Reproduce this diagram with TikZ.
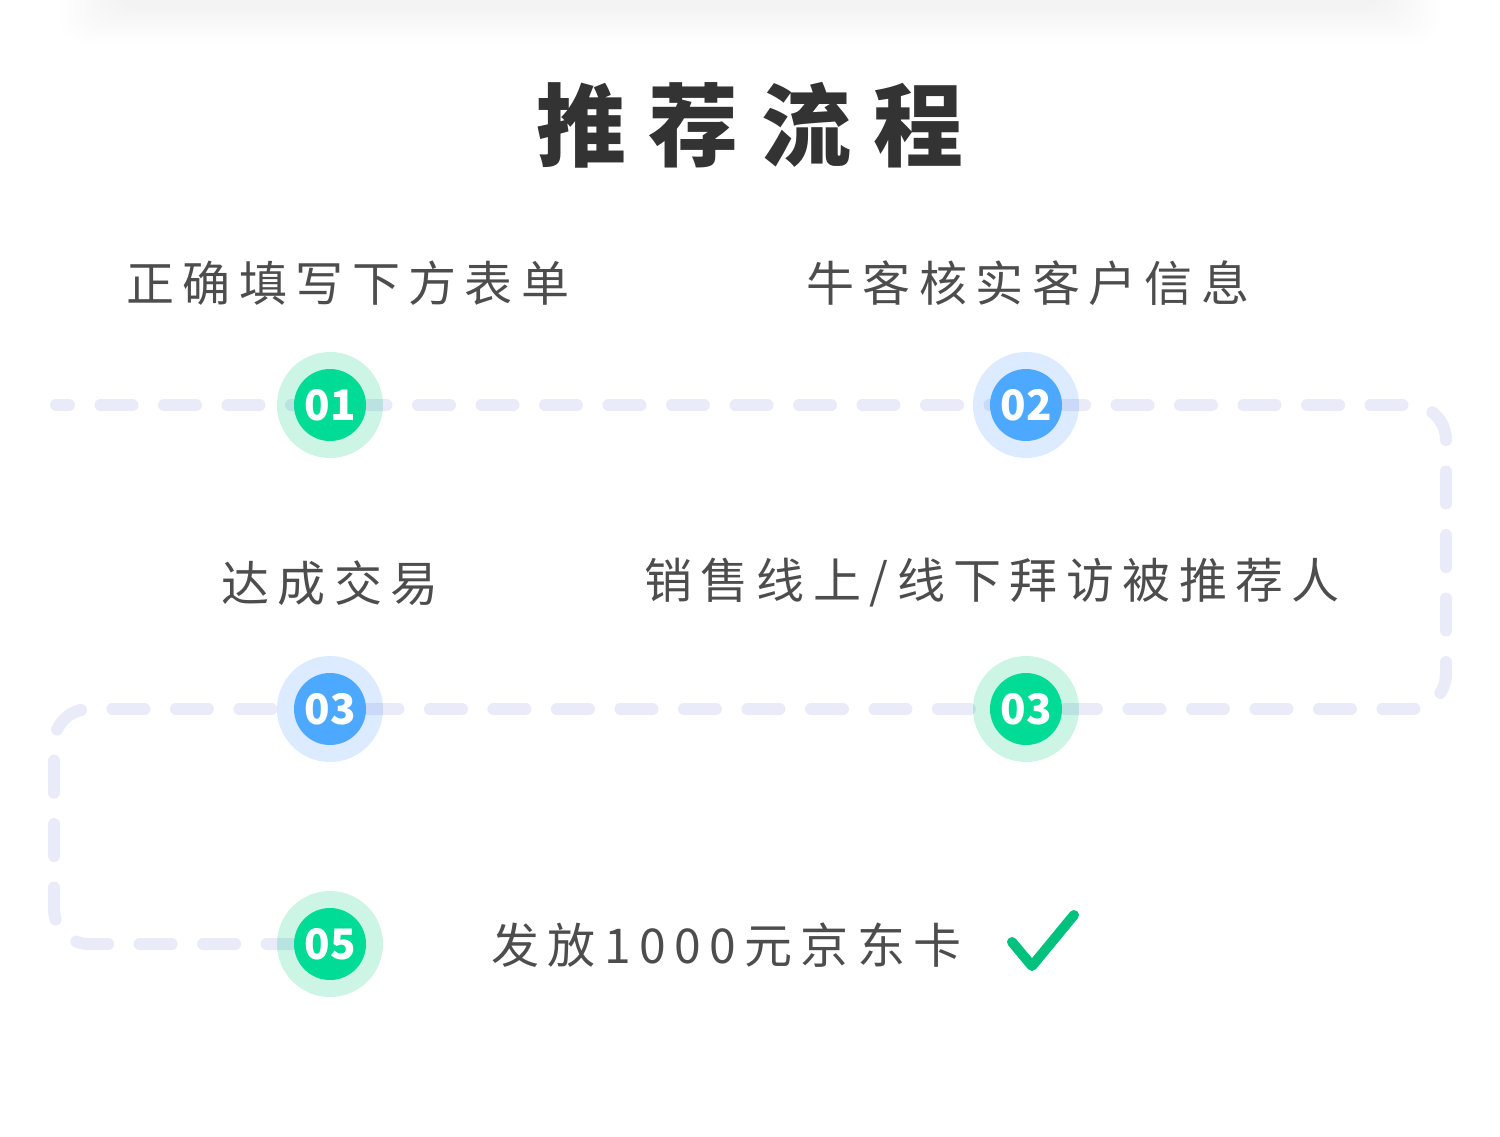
\documentclass[tikz,border=0pt]{standalone}
\usepackage{fontspec}
\newfontfamily\cjktitle[LetterSpace=25]{Noto Sans CJK SC}
\newfontfamily\cjkstep[LetterSpace=17.5]{Noto Sans CJK SC}
\newfontfamily\cjknum{Noto Sans CJK SC}
\usetikzlibrary{positioning}

\definecolor{titlegray}{HTML}{333333}
\definecolor{textgray}{HTML}{4D4D4D}
\definecolor{routeblue}{RGB}{35,65,185}
\definecolor{badgegreen}{HTML}{00DC96}
\definecolor{halogreen}{HTML}{CCF5E6}
\definecolor{badgeblue}{HTML}{4DA9FF}
\definecolor{haloblue}{HTML}{DCEBFF}
\definecolor{checkgreen}{HTML}{00C27E}

\pgfdeclarelayer{halo}
\pgfdeclarelayer{route}
\pgfsetlayers{halo,route,main}

\tikzset{
  badge/.style={circle, minimum size=36pt, inner sep=0pt, text=white,
    font=\cjknum\bfseries\fontsize{21pt}{21pt}\selectfont},
  steptext/.style={inner sep=0pt, text=textgray,
    font=\cjkstep\fontsize{24pt}{24pt}\selectfont},
  route/.style={routeblue, opacity=0.1, line width=6pt, line cap=round,
    dash pattern=on 16pt off 15.75pt, dash phase=9.5pt, rounded corners=17.5pt},
  check/.style={checkgreen, line width=5pt, line cap=round, line join=round}
}
\newcommand{\BadgeG}[3]{\node[badge, fill=badgegreen] (#1) at (#2) {#3};
  \begin{pgfonlayer}{halo}\fill[halogreen] (#1.center) circle (26.5pt);\end{pgfonlayer}}
\newcommand{\BadgeB}[3]{\node[badge, fill=badgeblue] (#1) at (#2) {#3};
  \begin{pgfonlayer}{halo}\fill[haloblue] (#1.center) circle (26.5pt);\end{pgfonlayer}}

\begin{document}
\begin{tikzpicture}[x=0.5pt, y=-0.5pt]
\useasboundingbox (0,0) rectangle (1500,1136);

% shadow of the card above
\foreach \i in {0,...,11}
  \fill[black, opacity=0.004, rounded corners=12pt] (60+\i*5,-40) rectangle (1440-\i*5,42-\i*3);

\node[text=titlegray, inner sep=0pt, font=\cjktitle\bfseries\fontsize{45pt}{45pt}\selectfont] (title) at (750,125) {推荐流程};

\BadgeG{b1}{330,405}{01}
\BadgeB{b2}{1026,405}{02}
\BadgeB{b3}{330,709}{03}
\BadgeG{b4}{1026,709}{03}
\BadgeG{b5}{330,944}{05}

\node[steptext] (t1) at (348,283) {正确填写下方表单};
\node[steptext] (t2) at (1028,283) {牛客核实客户信息};
\node[steptext] (t3) at (330,583) {达成交易};
\node[steptext] (t4) at (992,583) {销售线上/线下拜访被推荐人};
\node[steptext, anchor=west] (t5) at (491,945) {发放1000元京东卡};

\coordinate (start) at (56,405);
\coordinate (ne) at (1446,405);
\coordinate (se) at (1446,709);
\coordinate (nw) at (54,709);
\coordinate (sw) at (54,944);

\begin{pgfonlayer}{route}
\draw[route] (start) -- (b1.center) -- (b2.center) -- (ne) -- (se) -- (b4.center) -- (b3.center) -- (nw) -- (sw) -- (b5.center);
\end{pgfonlayer}

\draw[check] (1012,942) -- (1032,966) -- (1074,915);
\end{tikzpicture}
\end{document}
